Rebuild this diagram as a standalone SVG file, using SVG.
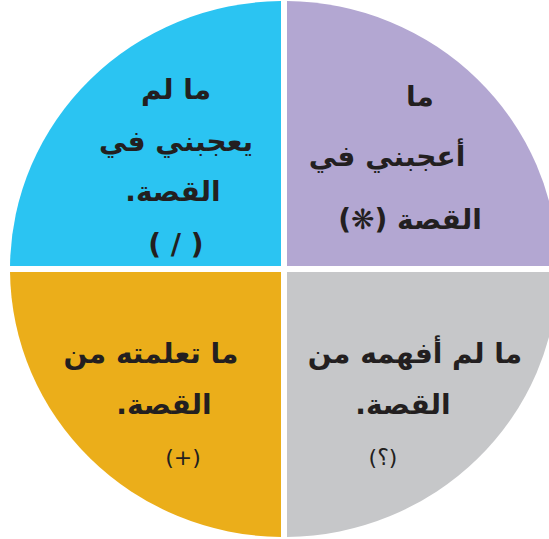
<svg xmlns="http://www.w3.org/2000/svg" width="549" height="539" viewBox="0 0 549 539">
  <style>
    .t { font-family: "DejaVu Sans", "Noto Sans", sans-serif; font-weight: bold; font-size: 28px; fill: #231f20; text-anchor: middle; direction: rtl; }
    .s { font-family: "DejaVu Sans", "Noto Sans", sans-serif; font-weight: normal; font-size: 22px; fill: #231f20; text-anchor: middle; direction: rtl; }
  </style>
  <rect width="549" height="539" fill="#ffffff"/>
  <g id="q-disliked">
    <path d="M281,266 L10.02,266 A274,268 0 0 1 281,1.02 Z" fill="#2bc4f2"/>
    <text class="t" x="176" y="99">ما لم</text>
    <text class="t" x="176" y="151">يعجبني في</text>
    <text class="t" x="173" y="201">القصة.</text>
    <text class="t" x="176" y="254">( / )</text>
  </g>
  <g id="q-liked">
    <path d="M287,266 L287,1.02 A274,268 0 0 1 557.98,266 Z" fill="#b3a7d2"/>
    <text class="t" x="420" y="106">ما</text>
    <text class="t" x="387" y="166">أعجبني في</text>
    <text class="t" x="410" y="229">القصة (❋)</text>
  </g>
  <g id="q-learned">
    <path d="M281,272 L281,536.98 A274,268 0 0 1 10.02,272 Z" fill="#ebae1a"/>
    <text class="t" x="151" y="363">ما تعلمته من</text>
    <text class="t" x="164" y="414">القصة.</text>
    <text class="s" x="183" y="465">(+)</text>
  </g>
  <g id="q-not-understood">
    <path d="M287,272 L557.98,272 A274,268 0 0 1 287,536.98 Z" fill="#c6c7c9"/>
    <text class="t" x="415" y="363">ما لم أفهمه من</text>
    <text class="t" x="403" y="414">القصة.</text>
    <text class="s" x="383" y="465">(؟)</text>
  </g>
</svg>
